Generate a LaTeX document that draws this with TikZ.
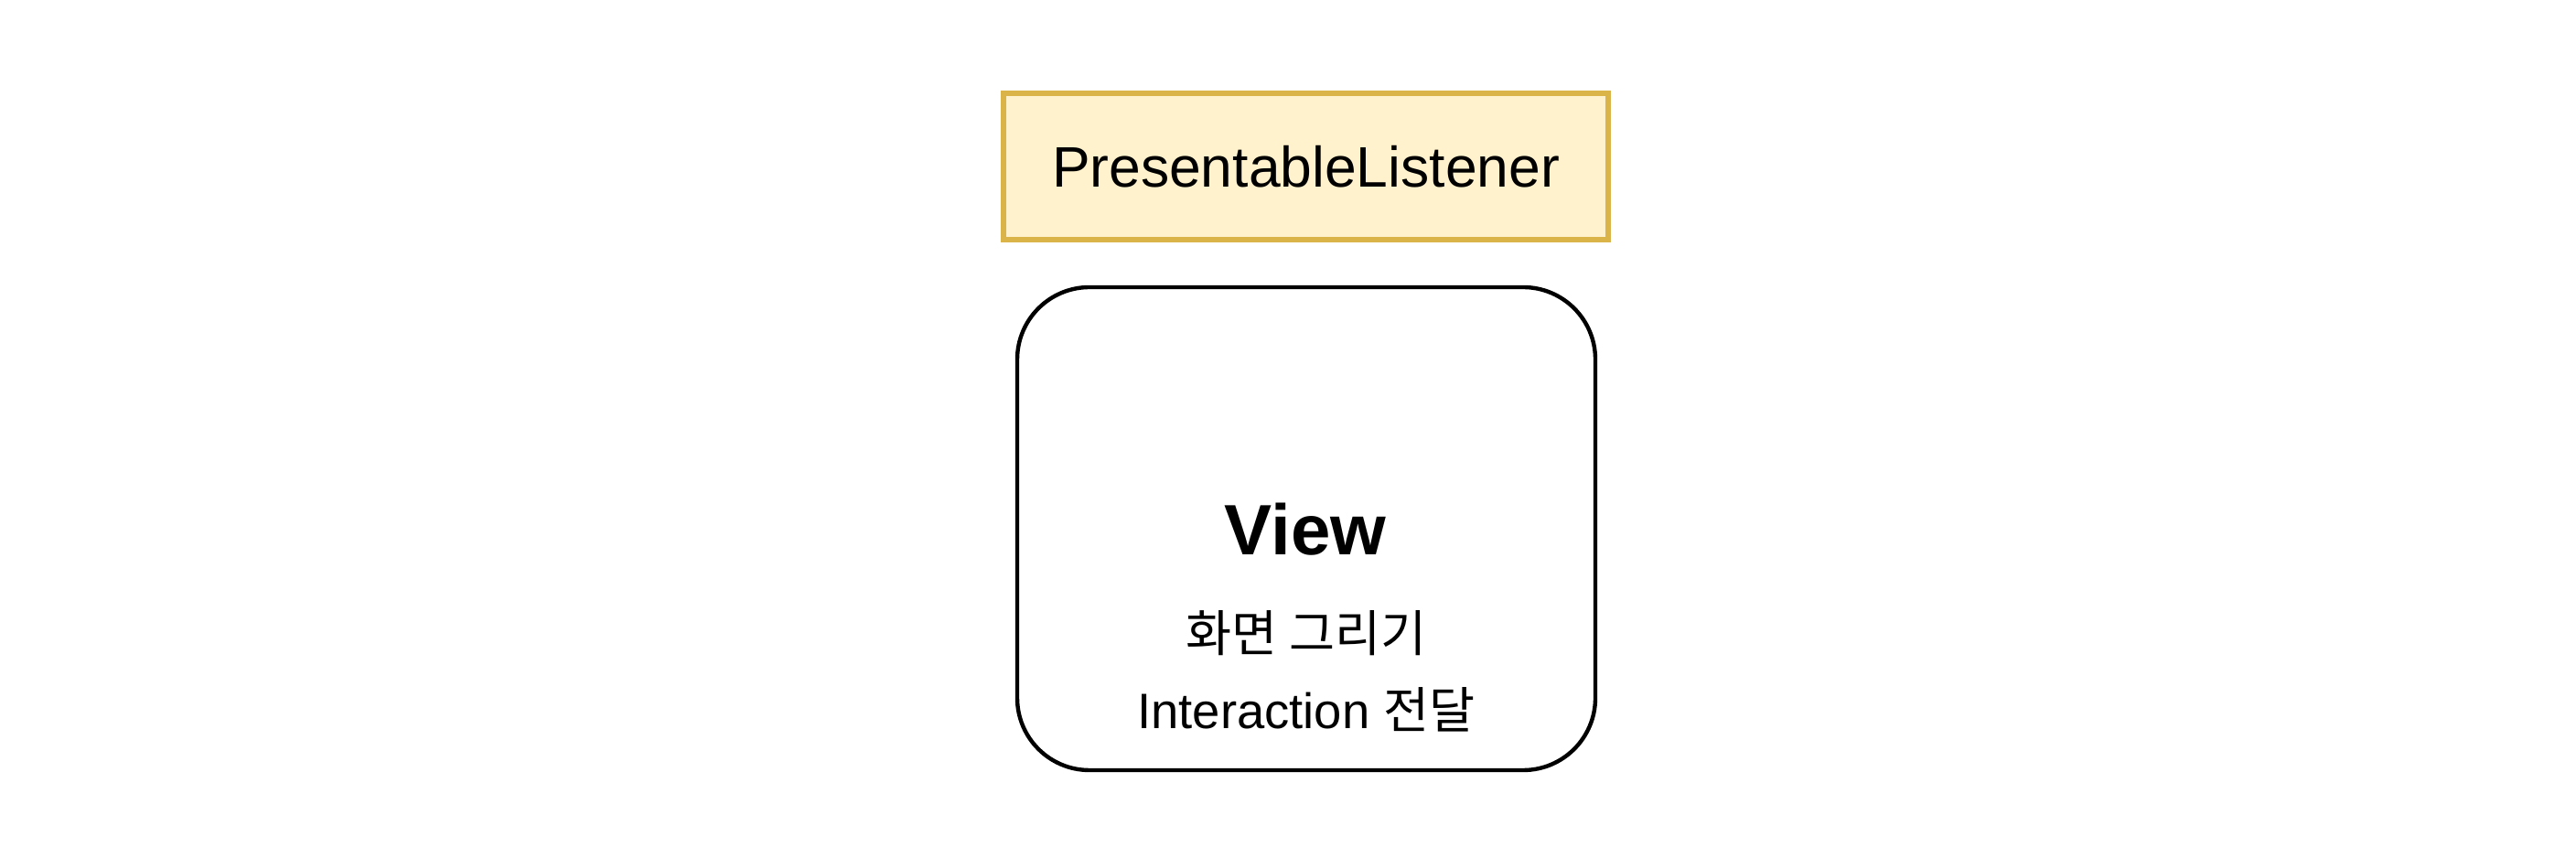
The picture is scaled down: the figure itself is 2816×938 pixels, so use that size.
\documentclass[tikz,border=0pt]{standalone}
\usepackage{fontspec}
\setmainfont{Liberation Sans}
\newfontfamily\krfont{Noto Sans CJK KR}
\definecolor{notefill}{HTML}{FFF2CC}
\definecolor{notedraw}{HTML}{DAB448}

\begin{document}
\begin{tikzpicture}[x=0.25pt,y=-0.25pt]
  \useasboundingbox (0,0) rectangle (2816,938);
  \node[draw=notedraw,fill=notefill,line width=1.4pt,minimum width=165.25pt,minimum height=40pt,font=\fontsize{15.6}{18}\selectfont] (listener) at (1427.5,182) {PresentableListener};
  \node[draw,line width=1.1pt,rounded corners=19.75pt,minimum width=158pt,minimum height=132pt] (view) at (1428,578) {};

  \node[anchor=base,font=\bfseries\fontsize{19.5}{22}\selectfont] (vtitle) at (1427,607) {View};
  \node[anchor=base,font=\fontsize{13.6}{16}\selectfont] (vline1) at (1428,713) {\krfont 화면 그리기};
  \node[anchor=base,font=\fontsize{13.6}{16}\selectfont] (vline2) at (1428,797) {Interaction {\krfont 전달}};
\end{tikzpicture}
\end{document}
